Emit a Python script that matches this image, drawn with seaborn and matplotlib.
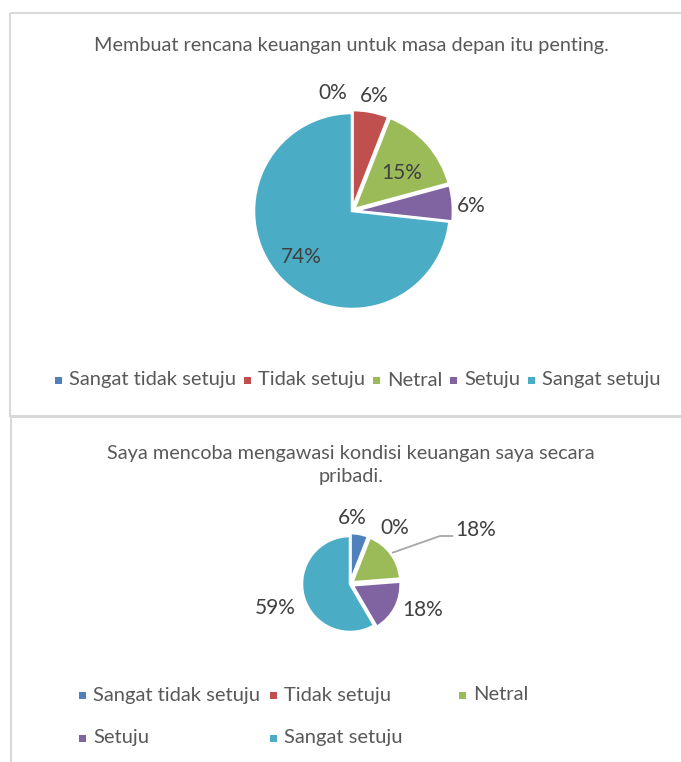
import matplotlib
matplotlib.use("Agg")
import matplotlib.pyplot as plt
from matplotlib.patches import Rectangle
import numpy as np
import seaborn as sns

# ---------------- data ----------------
categories = ["Sangat tidak setuju", "Tidak setuju", "Netral", "Setuju", "Sangat setuju"]
top_title = "Membuat rencana keuangan untuk masa depan itu penting."
top_pct = [0, 6, 15, 6, 74]
bottom_title = "Saya mencoba mengawasi kondisi keuangan saya secara\npribadi."
bottom_pct = [6, 0, 18, 18, 59]

# ---------------- style ----------------
sns.set_theme(style="white")
plt.rcParams["font.family"] = ["Lato", "DejaVu Sans"]
palette = sns.color_palette(["#4F81BD", "#C0504D", "#9BBB59", "#8064A2", "#4BACC6"])
TXT = "#595959"
LBL = "#404040"
W, H = 681, 762
LFS = 15.0   # percent label font size
TFS = 14.3   # title font size
GFS = 14.5   # legend font size
fig = plt.figure(figsize=(W / 100, H / 100), dpi=100)
fig.patch.set_facecolor("white")


def px_axes(cx, cy, half):
    return fig.add_axes([(cx - half) / W, 1 - (cy + half) / H, 2 * half / W, 2 * half / H])


def draw_pie(cx, cy, r, values, explode, dists, shifts, fs):
    ax = px_axes(cx, cy, 150)
    lim = 150 / r
    wedges, _ = ax.pie(values, colors=palette, startangle=90, counterclock=False,
                       explode=explode, radius=1,
                       wedgeprops=dict(edgecolor="white", linewidth=1.8))
    ax.set_xlim(-lim, lim)
    ax.set_ylim(-lim, lim)
    ax.set_aspect("equal")
    ax.axis("off")
    ax.patch.set_alpha(0)
    for w, v, d, s in zip(wedges, values, dists, shifts):
        if d is None:
            continue
        a = np.deg2rad((w.theta1 + w.theta2) / 2 + s)
        ax.text(d * np.cos(a), d * np.sin(a), f"{v}%", ha="center", va="center_baseline",
                fontsize=fs, color=LBL)
    return ax, wedges


# top pie
draw_pie(352, 211, 98, top_pct, [0.03, 0.03, 0.03, 0.03, 0],
         [1.24, 1.21, 0.65, 1.22, 0.69], [9, 0, -3, -1, -1], LFS)

# bottom pie
axb, wb = draw_pie(350, 584, 48, bottom_pct, [0.06, 0.06, 0.06, 0.06, 0],
                   [1.42, 1.53, None, 1.6, 1.63], [9, -16, 0, 9.5, 1], LFS)
g = wb[2]
ga = np.deg2rad((g.theta1 + g.theta2) / 2)
axb.plot([1.09 * np.cos(ga), 1.875, 2.15], [1.09 * np.sin(ga), 1.0, 1.0],
         color="#A6A6A6", lw=1.3, solid_capstyle="butt")
axb.text(2.2, 1.17, f"{bottom_pct[2]}%", ha="left", va="center_baseline", fontsize=LFS, color=LBL)

# overlay in pixel coordinates
ov = fig.add_axes([0, 0, 1, 1], zorder=-1)
ov.set_xlim(0, W)
ov.set_ylim(H, 0)
ov.axis("off")
ov.add_patch(Rectangle((10, 13), 700, 403, fill=False, edgecolor="#D9D9D9", lw=1.5))
ov.add_patch(Rectangle((11, 417), 700, 400, fill=False, edgecolor="#D9D9D9", lw=1.5))

fig.text(351 / W, 1 - 46 / H, top_title, ha="center", va="center", fontsize=TFS, color=TXT)
fig.text(351 / W, 1 - 465 / H, bottom_title, ha="center", va="center", fontsize=TFS,
         color=TXT, linespacing=1.4)

ovl = fig.add_axes([0, 0, 1, 1])
ovl.set_xlim(0, W)
ovl.set_ylim(H, 0)
ovl.axis("off")
ovl.patch.set_alpha(0)


def legend_row(xs, ys, idxs):
    for x, y, i in zip(xs, ys, idxs):
        ovl.add_patch(Rectangle((x - 3.5, y - 3.5), 7, 7, facecolor=palette[i], edgecolor="none"))
        ovl.text(x + 11, y, categories[i], ha="left", va="center", fontsize=GFS, color=TXT)


legend_row([58, 247, 376, 453, 531], [380] * 5, range(5))
legend_row([82, 273, 462, 82, 273], [695, 695, 695, 738, 738], range(5))

fig.savefig("out.png", dpi=100, facecolor="white")
